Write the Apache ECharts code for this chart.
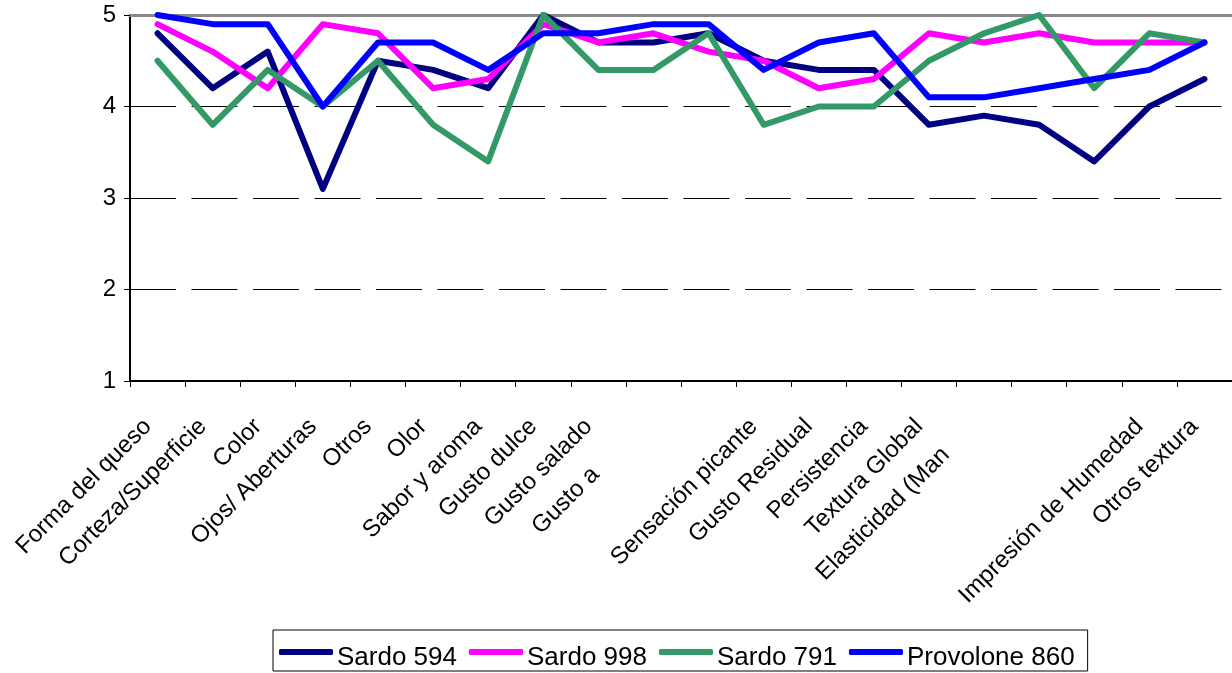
<!DOCTYPE html>
<html>
<head>
<meta charset="utf-8">
<script src="https://cdn.jsdelivr.net/npm/echarts@6/dist/echarts.min.js"></script>
<style>
  html, body { margin: 0; padding: 0; background: #fff; }
  #chart { width: 1232px; height: 673px; }
</style>
</head>
<body>
<div id="chart"></div>
<script>
// Category names (empty = label not shown in the reference)
var categories = [
  'Forma del queso', 'Corteza/Superficie', 'Color', 'Ojos/ Aberturas', 'Otros',
  'Olor', 'Sabor y aroma', 'Gusto dulce', 'Gusto salado', 'Gusto amargo',
  '', 'Sensación picante', 'Gusto Residual', 'Persistencia', 'Textura Global',
  'Elasticidad (Manual)', '', '', 'Impresión de Humedad', 'Otros textura'
];
// Labels that appear cut off in the reference: index -> number of visible characters
var clippedLabels = { 9: 7, 15: 16 };

var seriesNames = ['Sardo 594', 'Sardo 998', 'Sardo 791', 'Provolone 860'];
var sardo594 = [4.8, 4.2, 4.6, 3.1, 4.5, 4.4, 4.2, 5.0, 4.7, 4.7, 4.8, 4.5, 4.4, 4.4, 3.8, 3.9, 3.8, 3.4, 4.0, 4.3];
var sardo998 = [4.9, 4.6, 4.2, 4.9, 4.8, 4.2, 4.3, 4.9, 4.7, 4.8, 4.6, 4.5, 4.2, 4.3, 4.8, 4.7, 4.8, 4.7, 4.7, 4.7];
var sardo791 = [4.5, 3.8, 4.4, 4.0, 4.5, 3.8, 3.4, 5.0, 4.4, 4.4, 4.8, 3.8, 4.0, 4.0, 4.5, 4.8, 5.0, 4.2, 4.8, 4.7];
var provolone860 = [5.0, 4.9, 4.9, 4.0, 4.7, 4.7, 4.4, 4.8, 4.8, 4.9, 4.9, 4.4, 4.7, 4.8, 4.1, 4.1, 4.2, 4.3, 4.4, 4.7];
var yTicks = [1, 2, 3, 4, 5];

var colors = ['#000080', '#FF00FF', '#339966', '#0000FF'];
var seriesData = [sardo594, sardo998, sardo791, provolone860];
var FONT = 'Liberation Sans, Arial, sans-serif';

var chart = echarts.init(document.getElementById('chart'), null, { renderer: 'canvas' });

var series = seriesNames.map(function (name, i) {
  return {
    name: name,
    type: 'line',
    data: seriesData[i],
    showSymbol: false,
    symbol: 'none',
    lineStyle: { color: colors[i], width: 6, cap: 'round', join: 'round' },
    itemStyle: { color: colors[i] },
    emphasis: { disabled: true },
    animation: false
  };
});

chart.setOption({
  animation: false,
  color: colors,
  grid: { left: 130, right: 0, top: 15, bottom: 292, containLabel: false },
  legend: {
    data: seriesNames,
    left: 273,
    top: 630,
    orient: 'horizontal',
    backgroundColor: '#fff',
    borderColor: '#000',
    borderWidth: 1,
    padding: [3, 13, 0, 6],
    itemGap: 12,
    itemWidth: 54,
    itemHeight: 6,
    icon: 'roundRect',
    formatter: function (name) { return '{t|' + name + '}'; },
    textStyle: {
      fontFamily: FONT, fontSize: 26, color: '#000',
      rich: { t: { fontFamily: FONT, fontSize: 26, color: '#000', lineHeight: 18, padding: [12, 0, 0, -1] } }
    }
  },
  xAxis: [{
    type: 'category',
    data: categories,
    boundaryGap: true,
    axisLine: { show: true, lineStyle: { color: '#000', width: 2 } },
    axisTick: { show: true, alignWithLabel: false, length: 6, lineStyle: { color: '#000', width: 1 } },
    splitLine: { show: false },
    axisLabel: {
      interval: 0,
      rotate: 45,
      margin: 32,
      color: '#000',
      fontFamily: FONT,
      fontSize: 24,
      padding: [0, 14, 0, 0],
      formatter: function (value, idx) {
        var n = clippedLabels[idx];
        if (n !== undefined) {
          return value.slice(0, n) + '{h|' + value.slice(n) + '}';
        }
        return value;
      },
      rich: { h: { color: 'rgba(0,0,0,0)', fontFamily: FONT, fontSize: 24 } }
    }
  }, {
    type: 'category',
    data: categories,
    position: 'top',
    boundaryGap: true,
    axisLine: { show: true, lineStyle: { color: '#888', width: 3 } },
    axisTick: { show: false },
    axisLabel: { show: false },
    splitLine: { show: false }
  }],
  yAxis: {
    type: 'value',
    min: yTicks[0],
    max: yTicks[yTicks.length - 1],
    interval: 1,
    axisLine: { show: true, lineStyle: { color: '#000', width: 2 } },
    axisTick: { show: true, length: 6, lineStyle: { color: '#000', width: 1 } },
    axisLabel: { color: '#000', fontFamily: FONT, fontSize: 24, margin: 14 },
    splitLine: { show: true, lineStyle: { color: '#000', width: 1, type: [46, 15.5] } }
  },
  series: series
});
</script>
</body>
</html>
